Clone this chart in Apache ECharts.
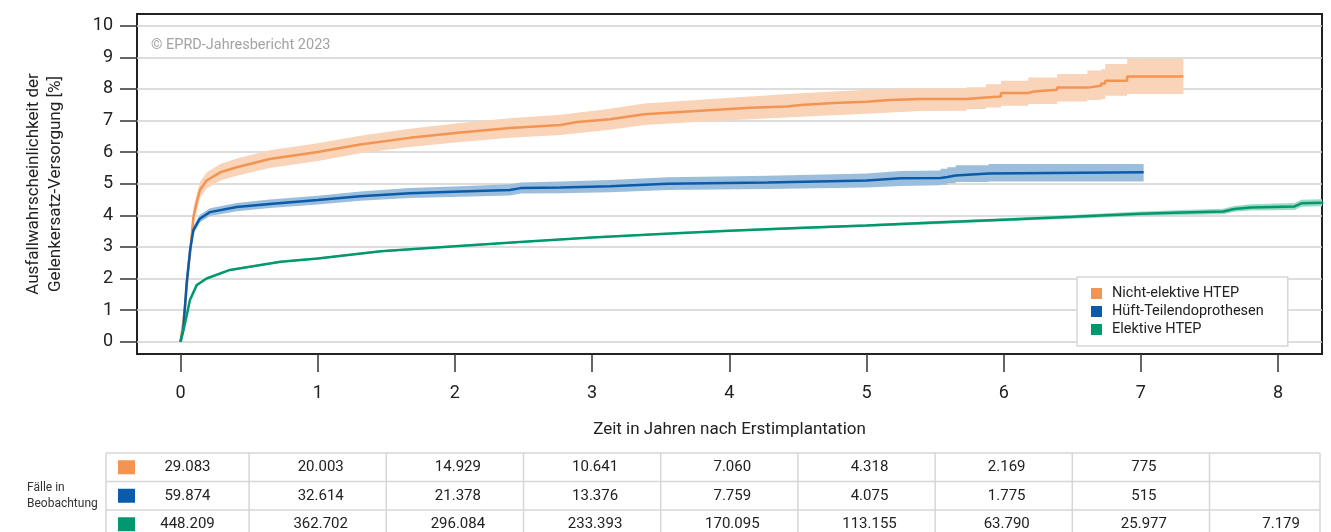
<!DOCTYPE html>
<html><head><meta charset="utf-8">
<script src="https://cdn.jsdelivr.net/npm/echarts@6/dist/echarts.min.js"></script>
<style>html,body{margin:0;padding:0;background:#fff}#c{width:1331px;height:532px}</style>
</head><body><div id="c"></div><script>
// ---------- data ----------
const seriesNames = ['Nicht-elektive HTEP', 'Hüft-Teilendoprothesen', 'Elektive HTEP'];
const xTicks = [0, 1, 2, 3, 4, 5, 6, 7, 8];
const yTicks = [0, 1, 2, 3, 4, 5, 6, 7, 8, 9, 10];

// [Jahre, %]
const orangeLine = [[0,0],[0.02,0.6],[0.035,1.2],[0.05,2.0],[0.074,3.0],[0.094,3.94],[0.12,4.45],[0.142,4.8],[0.19,5.1],[0.29,5.36],[0.41,5.52],[0.65,5.78],[1.0,6.0],[1.31,6.24],[1.67,6.45],[2.04,6.62],[2.4,6.76],[2.77,6.86],[2.89,6.95],[3.13,7.04],[3.38,7.2],[3.79,7.31],[4.15,7.4],[4.42,7.44],[4.52,7.49],[4.76,7.55],[5.0,7.59],[5.17,7.65],[5.39,7.68],[5.73,7.68],[5.73,7.73],[5.87,7.73],[5.87,7.76],[5.98,7.76],[5.98,7.87],[6.18,7.87],[6.18,7.92],[6.22,7.92],[6.22,7.97],[6.39,7.97],[6.39,8.04],[6.61,8.04],[6.61,8.1],[6.71,8.1],[6.71,8.17],[6.74,8.17],[6.74,8.26],[6.9,8.26],[6.9,8.39],[7.31,8.39]];
// [Jahre, untere Grenze, obere Grenze]
const orangeBand = [[0,0,0],[0.02,0.45,0.75],[0.05,1.75,2.25],[0.074,2.7,3.3],[0.094,3.65,4.25],[0.142,4.55,5.05],[0.19,4.85,5.35],[0.29,5.1,5.62],[0.41,5.25,5.8],[0.65,5.5,6.06],[1.0,5.72,6.28],[1.31,5.96,6.52],[1.67,6.16,6.74],[2.04,6.32,6.92],[2.4,6.45,7.07],[2.77,6.54,7.18],[3.13,6.71,7.37],[3.38,6.86,7.54],[3.79,6.96,7.66],[4.15,7.04,7.76],[4.52,7.12,7.86],[5.0,7.21,7.97],[5.39,7.3,8.02],[5.73,7.31,8.02],[5.73,7.36,8.05],[5.87,7.36,8.05],[5.87,7.41,8.15],[5.98,7.41,8.15],[5.98,7.47,8.26],[6.18,7.47,8.26],[6.18,7.52,8.36],[6.39,7.52,8.36],[6.39,7.6,8.47],[6.61,7.6,8.47],[6.61,7.65,8.58],[6.71,7.65,8.58],[6.71,7.68,8.62],[6.74,7.68,8.62],[6.74,7.78,8.79],[6.9,7.78,8.79],[6.9,7.84,8.95],[7.31,7.84,8.95]];

const blueLine = [[0,0],[0.02,0.37],[0.045,1.85],[0.07,2.9],[0.094,3.53],[0.142,3.9],[0.215,4.1],[0.41,4.26],[0.65,4.36],[1.0,4.48],[1.31,4.6],[1.67,4.7],[2.04,4.75],[2.4,4.8],[2.48,4.86],[2.77,4.88],[3.13,4.92],[3.55,5.0],[4.28,5.04],[5.0,5.1],[5.25,5.17],[5.54,5.18],[5.54,5.21],[5.59,5.21],[5.59,5.26],[5.65,5.26],[5.65,5.32],[5.89,5.32],[5.89,5.36],[7.02,5.36]];
const blueBand = [[0,0,0],[0.02,0.3,0.44],[0.045,1.72,1.98],[0.07,2.76,3.04],[0.094,3.4,3.66],[0.142,3.78,4.02],[0.215,3.98,4.22],[0.41,4.13,4.39],[0.65,4.23,4.5],[1.0,4.34,4.62],[1.31,4.46,4.75],[1.67,4.55,4.86],[2.04,4.59,4.92],[2.4,4.63,4.98],[2.48,4.69,5.04],[2.77,4.7,5.07],[3.13,4.73,5.12],[3.55,4.8,5.2],[4.28,4.83,5.25],[5.0,4.88,5.32],[5.25,4.93,5.4],[5.54,4.95,5.42],[5.54,4.97,5.47],[5.59,4.97,5.47],[5.59,5.01,5.52],[5.65,5.01,5.52],[5.65,5.05,5.58],[5.89,5.05,5.58],[5.89,5.07,5.62],[7.02,5.07,5.62]];

const greenLine = [[0,0],[0.033,0.58],[0.069,1.32],[0.118,1.79],[0.19,2.0],[0.36,2.27],[0.73,2.53],[1.0,2.63],[1.46,2.86],[2.0,3.02],[2.5,3.16],[3.0,3.3],[3.5,3.41],[4.0,3.51],[4.5,3.6],[5.0,3.68],[5.5,3.77],[6.0,3.86],[6.5,3.95],[7.0,4.05],[7.3,4.09],[7.6,4.12],[7.68,4.2],[7.8,4.25],[8.12,4.28],[8.17,4.38],[8.33,4.4]];
const greenBand = [[0,0,0],[0.033,0.55,0.61],[0.069,1.29,1.35],[0.118,1.76,1.82],[0.19,1.97,2.03],[0.36,2.24,2.3],[0.73,2.5,2.56],[1.0,2.6,2.66],[1.46,2.83,2.89],[2.0,2.99,3.05],[2.5,3.13,3.19],[3.0,3.27,3.33],[3.5,3.38,3.44],[4.0,3.48,3.54],[4.5,3.56,3.64],[5.0,3.64,3.72],[5.5,3.72,3.82],[6.0,3.81,3.91],[6.5,3.89,4.01],[7.0,3.98,4.12],[7.3,4.01,4.17],[7.6,4.03,4.21],[7.68,4.11,4.29],[7.8,4.15,4.35],[8.12,4.17,4.39],[8.17,4.27,4.49],[8.33,4.29,4.51]];

// Fälle in Beobachtung
const casesOrange = [29083, 20003, 14929, 10641, 7060, 4318, 2169, 775, null];
const casesBlue   = [59874, 32614, 21378, 13376, 7759, 4075, 1775, 515, null];
const casesGreen  = [448209, 362702, 296084, 233393, 170095, 113155, 63790, 25977, 7179];

// ---------- style ----------
const FONT = 'Roboto, "DejaVu Sans", sans-serif';
const colors = ['#F39452', '#0A5BAA', '#00996F'];
const bandColors = ['#F9D4B8', '#9BBEDD', '#9FD8C3'];

function fmt(n) { return n == null ? '' : String(n).replace(/\B(?=(\d{3})+(?!\d))/g, '.'); }

function bandSeries(name, band, color) {
  return {
    type: 'custom', name: name + ' KI', silent: true, z: 1, clip: true,
    data: [[0, 0]],
    renderItem: function (params, api) {
      const pts = band.map(b => api.coord([b[0], b[2]]));
      for (let i = band.length - 1; i >= 0; i--) pts.push(api.coord([band[i][0], band[i][1]]));
      return { type: 'polygon', shape: { points: pts }, style: { fill: color }, silent: true };
    }
  };
}
function lineSeries(name, data, color) {
  return {
    type: 'line', name: name, data: data, symbol: 'none', showSymbol: false, z: 3, clip: true,
    lineStyle: { color: color, width: 2.5 }, itemStyle: { color: color }
  };
}

const chart = echarts.init(document.getElementById('c'), null, { renderer: 'canvas' });
const option = {
  animation: false,
  textStyle: { fontFamily: FONT },
  title: {
    text: '© EPRD-Jahresbericht 2023', left: 146, top: 33,
    textStyle: { fontSize: 14.5, fontWeight: 'normal', color: '#a3a3a3', fontFamily: FONT }
  },
  legend: {
    data: seriesNames, orient: 'vertical', left: 1077, top: 277,
    backgroundColor: '#fff', borderColor: '#d6d6d6', borderWidth: 1.5, borderRadius: 0,
    padding: [9, 24, 9, 14], itemWidth: 11, itemHeight: 11, itemGap: 3, icon: 'rect',
    textStyle: { fontSize: 14.5, color: '#222', fontFamily: FONT, padding: [0, 0, 0, 5] }
  },
  grid: {
    left: 137, right: 9, top: 14, bottom: 178, show: true,
    borderColor: '#222', borderWidth: 2, backgroundColor: 'transparent', containLabel: false
  },
  xAxis: {
    type: 'value', min: -0.317, max: 8.32,
    axisLine: { show: false, onZero: false },
    axisTick: { show: true, customValues: xTicks, length: 18, inside: false, lineStyle: { color: '#333', width: 1.5 } },
    axisLabel: { customValues: xTicks, fontSize: 18, color: '#222', margin: 30, fontFamily: FONT },
    splitLine: { show: false },
    name: 'Zeit in Jahren nach Erstimplantation', nameLocation: 'middle', nameGap: 67,
    nameTextStyle: { fontSize: 17, color: '#222', fontFamily: FONT }
  },
  yAxis: {
    type: 'value', min: -0.39, max: 10.37,
    axisLine: { show: false, onZero: false },
    axisTick: { show: true, customValues: yTicks, length: 17, inside: false, lineStyle: { color: '#333', width: 1.5 } },
    axisLabel: { customValues: yTicks, fontSize: 18, color: '#222', margin: 24, fontFamily: FONT },
    splitLine: { show: true, lineStyle: { color: '#d2d2d2', width: 1.5 } },
    name: 'Ausfallwahrscheinlichkeit der\nGelenkersatz-Versorgung [%]', nameLocation: 'middle', nameRotate: 90, nameGap: 70,
    nameTextStyle: { fontSize: 17, color: '#222', lineHeight: 22, fontFamily: FONT }
  },
  series: [
    bandSeries(seriesNames[0], orangeBand, bandColors[0]),
    bandSeries(seriesNames[1], blueBand, bandColors[1]),
    bandSeries(seriesNames[2], greenBand, bandColors[2]),
    lineSeries(seriesNames[0], orangeLine, colors[0]),
    lineSeries(seriesNames[1], blueLine, colors[1]),
    lineSeries(seriesNames[2], greenLine, colors[2])
  ]
};
chart.setOption(option);

// ---------- Tabelle "Fälle in Beobachtung" ----------
(function () {
  const xs = xTicks.map(t => chart.convertToPixel({ xAxisIndex: 0 }, t));
  const tableLeft = 106, tableRight = 1320, tableTop = 453, rowH = 28.5;
  const lineCol = '#d6d6d6';
  const rows = [casesOrange, casesBlue, casesGreen];
  const g = [];
  const bounds = [tableLeft];
  for (let i = 0; i < xs.length - 1; i++) bounds.push((xs[i] + xs[i + 1]) / 2);
  bounds.push(tableRight);
  const tableBottom = tableTop + rowH * rows.length;
  for (let r = 0; r <= rows.length; r++) {
    g.push({ type: 'line', shape: { x1: tableLeft, y1: tableTop + r * rowH, x2: tableRight, y2: tableTop + r * rowH }, style: { stroke: lineCol, lineWidth: 1.5 } });
  }
  bounds.forEach(b => g.push({ type: 'line', shape: { x1: b, y1: tableTop, x2: b, y2: tableBottom }, style: { stroke: lineCol, lineWidth: 1.5 } }));
  rows.forEach((row, r) => {
    const cy = tableTop + r * rowH + rowH / 2;
    g.push({ type: 'rect', shape: { x: 118, y: cy - 7, width: 17, height: 14 }, style: { fill: colors[r] } });
    row.forEach((v, i) => {
      g.push({ type: 'text', x: xs[i] + (i === 0 ? 7 : 3), y: cy, style: { text: fmt(v), fill: '#222', font: '15px ' + FONT, textAlign: 'center', textVerticalAlign: 'middle' } });
    });
  });
  g.push({ type: 'text', x: 27, y: 488, style: { text: 'Fälle in', fill: '#333', font: '12px ' + FONT, textAlign: 'left', textVerticalAlign: 'middle' } });
  g.push({ type: 'text', x: 27, y: 504, style: { text: 'Beobachtung', fill: '#333', font: '12px ' + FONT, textAlign: 'left', textVerticalAlign: 'middle' } });
  chart.setOption({ graphic: g });
})();
</script></body></html>
